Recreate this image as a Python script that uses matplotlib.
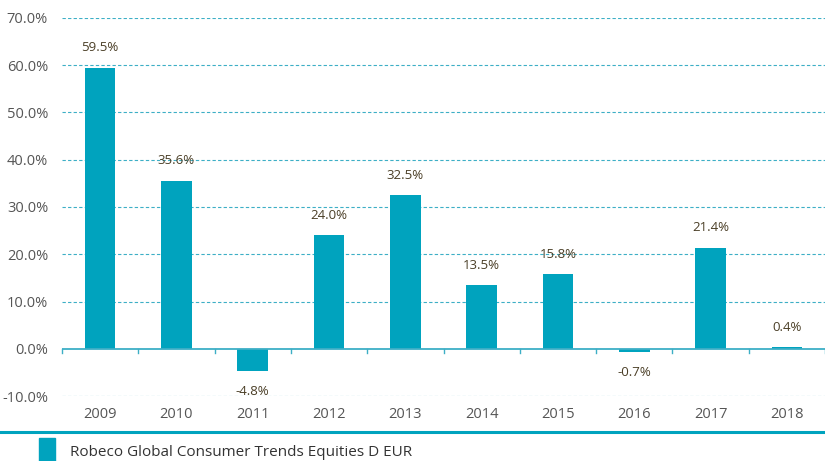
import numpy as np
import matplotlib.pyplot as plt
from matplotlib.lines import Line2D
from matplotlib.patches import Rectangle

plt.rcParams['font.family'] = ['Open Sans', 'DejaVu Sans']

years = ['2009', '2010', '2011', '2012', '2013', '2014', '2015', '2016', '2017', '2018']
returns = [59.5, 35.6, -4.8, 24.0, 32.5, 13.5, 15.8, -0.7, 21.4, 0.4]
series_name = 'Robeco Global Consumer Trends Equities D EUR'

teal = '#00A3BE'
grid_col = '#3DAFC6'
label_col = '#4A3E26'
tick_col = '#555555'

W, H = 825, 461
fig = plt.figure(figsize=(8.25, 4.61), dpi=100)
ax = fig.add_axes([62 / W, 1 - 396 / H, 763 / W, 378 / H])

x = np.arange(len(years))
ax.bar(x, returns, width=0.4, color=teal, zorder=3)

ax.set_xlim(-0.5, len(years) - 0.5)
ax.set_ylim(-10, 70)
ax.set_yticks(np.arange(-10, 71, 10))
ax.set_yticklabels(['%.1f%%' % v for v in np.arange(-10, 71, 10)])
for v in np.arange(-10, 71, 10):
    if v != 0:
        ax.axhline(v, color=grid_col, lw=0.8, ls=(0, (3, 2)), zorder=1)
ax.axhline(0, color=grid_col, lw=1.3, zorder=4)

# small ticks at category boundaries on zero line
for b in np.arange(-0.5, len(years), 1.0):
    ax.plot([b, b], [0, -0.8], color=grid_col, lw=1.0, zorder=4, clip_on=False)

ax.set_xticks(x)
ax.set_xticklabels(years)
ax.tick_params(axis='both', length=0, labelsize=10.5, colors=tick_col)
ax.tick_params(axis='x', pad=8)
ax.tick_params(axis='y', pad=10)
for s in ax.spines.values():
    s.set_visible(False)

for xi, v in zip(x, returns):
    if v >= 0:
        ax.annotate('%.1f%%' % v, (xi, v), xytext=(0, 9.5), textcoords='offset points',
                    ha='center', va='bottom', color=label_col, fontsize=9.5)
    else:
        ax.annotate('%.1f%%' % v, (xi, v), xytext=(0, -10), textcoords='offset points',
                    ha='center', va='top', color=label_col, fontsize=9.5)

# bottom rule and legend
fig.add_artist(Line2D([0, 1], [1 - 432 / H, 1 - 432 / H], color=teal, lw=2.2,
                      transform=fig.transFigure))
fig.add_artist(Rectangle((39 / W, 0), 16 / W, 23 / H, color=teal,
                         transform=fig.transFigure))
fig.text(70 / W, 1 - 452 / H, series_name, fontsize=11, color='#333333',
         ha='left', va='center')

fig.savefig('out.png', dpi=100)
